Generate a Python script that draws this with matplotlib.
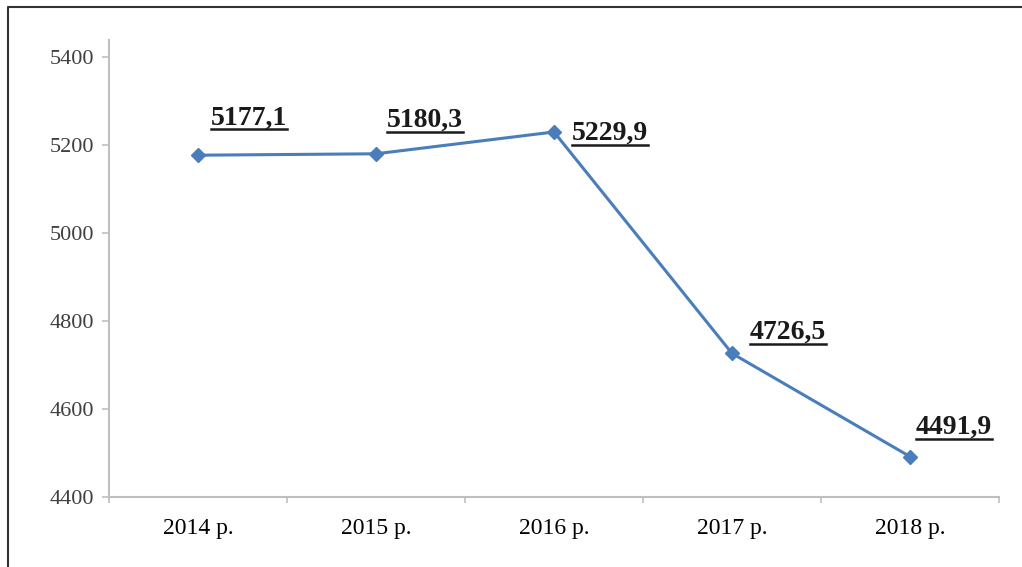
import matplotlib.pyplot as plt
import matplotlib.lines as mlines
import numpy as np

years = ["2014 р.", "2015 р.", "2016 р.", "2017 р.", "2018 р."]
values = [5177.1, 5180.3, 5229.9, 4726.5, 4491.9]
value_labels = ["5177,1", "5180,3", "5229,9", "4726,5", "4491,9"]
yticks = [4400, 4600, 4800, 5000, 5200, 5400]

# label offsets from each point, in points (dx, dy)
label_offsets = [(9, 27), (8, 24), (13, -1), (13, 15), (4, 21)]

plt.rcParams['font.family'] = ['Liberation Serif', 'DejaVu Serif']

fig = plt.figure(figsize=(10.22, 5.67), dpi=100)
ax = fig.add_axes([109 / 1022, 1 - 497 / 567, 890 / 1022, 457 / 567])

x = np.arange(len(years))
ax.plot(x, values, color='#4a7ebb', linewidth=2.2, marker='D', markersize=7,
        markeredgecolor='#4a7ebb', zorder=3)

ax.set_xlim(-0.5, len(years) - 0.5)
ax.set_ylim(4400, 5439)
ax.set_yticks(yticks)
ax.set_yticklabels([str(v) for v in yticks], fontsize=16, color='#404040')
ax.set_xticks(x)
ax.set_xticklabels(years, fontsize=17, color='black')
ax.set_xticks(np.arange(len(years) + 1) - 0.5, minor=True)
ax.tick_params(axis='x', which='major', length=0, pad=15)
ax.tick_params(axis='x', which='minor', length=4, width=1.2, color='#bfbfbf')
ax.tick_params(axis='y', length=5, width=1.2, color='#bfbfbf', pad=6)

for side in ['top', 'right']:
    ax.spines[side].set_visible(False)
for side in ['left', 'bottom']:
    ax.spines[side].set_color('#bfbfbf')
    ax.spines[side].set_linewidth(1.5)

texts = []
for xi, v, lab, (dx, dy) in zip(x, values, value_labels, label_offsets):
    t = ax.annotate(lab, (xi, v), xytext=(dx, dy), textcoords='offset points',
                    fontsize=20, fontweight='bold', color='#1a1a1a',
                    ha='left', va='center', clip_on=True, annotation_clip=False)
    texts.append(t)

# underline the value labels
fig.canvas.draw()
renderer = fig.canvas.get_renderer()
inv = ax.transAxes.inverted()
for t in texts:
    bb = t.get_window_extent(renderer)
    (x0, y0), (x1, _) = inv.transform([(bb.x0, bb.y0 + 1), (bb.x1, bb.y0 + 1)])
    ax.add_line(mlines.Line2D([x0, x1], [y0, y0], transform=ax.transAxes,
                              color='#1a1a1a', linewidth=1.8, clip_on=True))

# outer frame (left and top edges visible in the reference)
fig.add_artist(mlines.Line2D([8 / 1022, 8 / 1022, 1.0], [0.0, 1 - 7 / 567, 1 - 7 / 567],
                             transform=fig.transFigure, color='#333333', linewidth=1.5))

fig.savefig('out.png', dpi=100, facecolor='white')
